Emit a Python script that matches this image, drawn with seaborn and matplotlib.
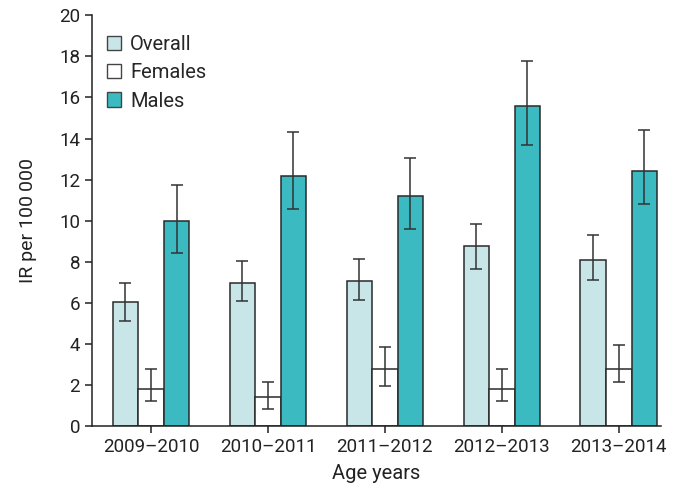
import matplotlib
matplotlib.use("Agg")
import matplotlib.pyplot as plt
import seaborn as sns
import pandas as pd
import numpy as np
from matplotlib.patches import Patch

periods = ["2009–2010", "2010–2011", "2011–2012", "2012–2013", "2013–2014"]
groups = ["Overall", "Females", "Males"]

overall = [6.05, 6.98, 7.05, 8.75, 8.08]
overall_lo = [5.12, 6.07, 6.16, 7.64, 7.12]
overall_hi = [6.96, 8.06, 8.14, 9.83, 9.31]

females = [1.80, 1.43, 2.76, 1.80, 2.76]
females_lo = [1.23, 0.86, 1.96, 1.23, 2.13]
females_hi = [2.76, 2.17, 3.86, 2.76, 3.94]

males = [9.98, 12.18, 11.22, 15.56, 12.44]
males_lo = [8.43, 10.56, 9.62, 13.66, 10.80]
males_hi = [11.74, 14.30, 13.07, 17.76, 14.39]

colors = ["#c8e6e8", "#ffffff", "#3bbbc1"]

values = [overall, females, males]
lows = [overall_lo, females_lo, males_lo]
highs = [overall_hi, females_hi, males_hi]

df = pd.DataFrame({
    "period": np.tile(periods, 3),
    "group": np.repeat(groups, len(periods)),
    "ir": np.concatenate(values),
})

sns.set_style("ticks")
plt.rcParams["font.family"] = ["Roboto", "DejaVu Sans"]

fig = plt.figure(figsize=(6.81, 4.91), dpi=100)
ax = fig.add_axes([0.135, 0.132, 0.836, 0.837])

sns.barplot(data=df, x="period", y="ir", hue="group", order=periods,
            hue_order=groups, palette=colors, saturation=1, width=0.655,
            gap=0, edgecolor="#2a2a2a", linewidth=1.1, errorbar=None,
            legend=False, ax=ax)

# error bars centred on each drawn bar
bars = [p for p in ax.patches]
for gi in range(3):
    for pi in range(len(periods)):
        patch = bars[gi * len(periods) + pi]
        xc = patch.get_x() + patch.get_width() / 2
        v = values[gi][pi]
        lo, hi = lows[gi][pi], highs[gi][pi]
        ax.errorbar(xc, v, yerr=[[v - lo], [hi - v]], fmt="none",
                    ecolor="#333333", elinewidth=1.1, capsize=4,
                    capthick=1.1)

ax.set_ylim(0, 20)
ax.set_yticks(range(0, 21, 2))
ax.set_xlim(-0.505, 4.363)
ax.set_xlabel("Age years", fontsize=14.5, color="#222222", labelpad=6)
ax.set_ylabel("IR per 100\u2009000", fontsize=14, color="#222222", labelpad=16)
ax.tick_params(axis="both", labelsize=13.5, colors="#222222", length=5,
               width=1.1, direction="out")
for side in ["top", "right"]:
    ax.spines[side].set_visible(False)
for side in ["left", "bottom"]:
    ax.spines[side].set_linewidth(1.1)
    ax.spines[side].set_color("#222222")

handles = [Patch(facecolor=c, edgecolor="#444444", linewidth=1.0) for c in colors]
ax.legend(handles, groups, loc="upper left", bbox_to_anchor=(-0.005, 0.995),
          frameon=False, fontsize=14.5, handlelength=0.7, handleheight=0.7,
          handletextpad=0.45, labelspacing=0.45)

fig.savefig("out.png", dpi=100)
